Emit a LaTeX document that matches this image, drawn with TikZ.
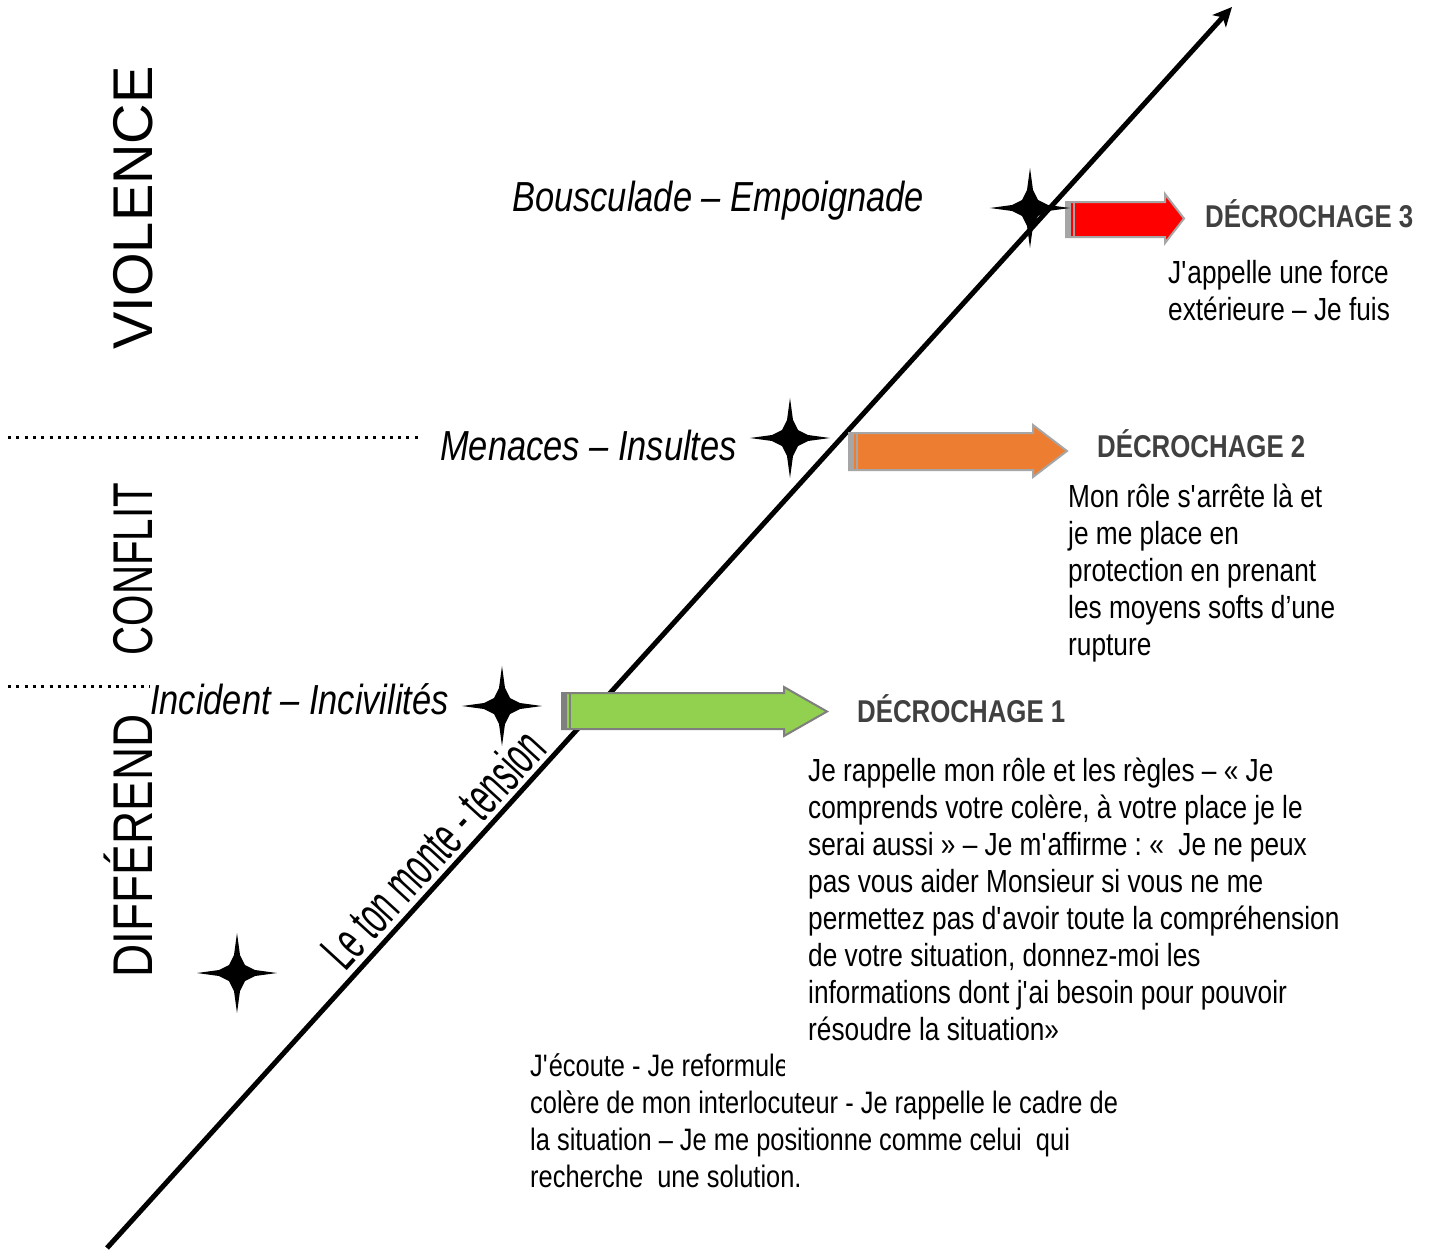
\documentclass[tikz,border=0pt]{standalone}
\usepackage{fontspec}
\setmainfont{Liberation Sans}
\newfontfamily\narrowfont{Liberation Sans}[FakeStretch=0.82]
\usepackage{graphicx}
\usetikzlibrary{arrows.meta}
\definecolor{arrgreen}{HTML}{92D050}
\definecolor{arrorange}{HTML}{ED7D31}
\definecolor{arrred}{HTML}{FF0000}
\definecolor{bordgray}{HTML}{A6A6A6}
\definecolor{bordgreen}{HTML}{7F7F7F}
\definecolor{labgray}{HTML}{404040}
\newcommand{\aps}{\textquotesingle}
\newcommand{\narrowspace}{\spaceskip=0.228em\relax\xspaceskip=0.228em\relax}
\begin{document}
\begin{tikzpicture}[x=1pt,y=-1pt,
  zone/.style={font=\fontsize{56}{60}\selectfont, rotate=90, anchor=base, inner sep=0},
  level/.style={font=\narrowfont\fontsize{42}{48}\selectfont\itshape, anchor=base west, inner sep=0},
  dlabel/.style={font=\narrowfont\fontsize{31.5}{36}\selectfont\bfseries, text=labgray, anchor=base west, inner sep=0},
  body/.style={font=\narrowfont\fontsize{32}{37}\selectfont, anchor=base west, inner sep=0, align=left},
  sepline/.style={line width=3pt, dash pattern=on 3pt off 5.3pt},
  axisline/.style={line width=5pt, -{Stealth[length=19pt,width=18pt,inset=5pt]}},
  blockarrow/.style={line width=2pt, draw=#1},
  sparkle/.pic={\fill[black] (0,-40) -- (3,-18) -- (8,-8) -- (18,-3) -- (40,0) -- (18,3) -- (8,8) -- (3,18) -- (0,40) -- (-3,18) -- (-8,8) -- (-18,3) -- (-40,0) -- (-18,-3) -- (-8,-8) -- (-3,-18) -- cycle;}
]
\useasboundingbox (0,0) rectangle (1431,1256);
\fill[white] (0,0) rectangle (1431,1256);

% zone labels
\node[zone] (violence) at (152,208) {VIOLENCE};
\node[zone] (conflit) at (152,569) {\scalebox{0.72}[1]{CONFLIT}};
\node[zone] (differend) at (152,846) {\scalebox{0.82}[1]{DIFFÉREND}};

% separators
\coordinate (s1a) at (8,437);
\coordinate (s1b) at (418,437);
\coordinate (s2a) at (8,686);
\coordinate (s2b) at (150,686);
\draw[sepline] (s1a) -- (s1b);
\draw[sepline] (s2a) -- (s2b);

% main axis
\coordinate (axstart) at (107,1248);
\coordinate (axend) at (1232,7);
\draw[axisline] (axstart) -- (axend);
\node[font=\fontsize{54}{60}\selectfont, rotate=47.5, anchor=base, inner sep=0] (tension) at (447,862) {\scalebox{0.56}[1]{Le ton monte - tension}};

% bottom paragraph (partly hidden)
\node[body, font=\narrowfont\fontsize{31}{37}\selectfont, text width=640pt] (ecoute) at (530,1076) {\narrowspace J\aps écoute - Je reformule\\colère de mon interlocuteur - Je rappelle le cadre de\\la situation – Je me positionne comme celui\ \ qui\\recherche\ \ une solution.};

% block arrows
\draw[blockarrow=bordgreen, fill=arrgreen] (562,693) -- (784,693) -- (784,687) -- (827,711.5) -- (784,736) -- (784,729) -- (562,729) -- cycle;
\fill[bordgreen] (562,693) rectangle (567,729);
\draw[bordgreen, line width=2pt] (570,693) -- (570,729);

\draw[blockarrow=bordgray, fill=arrorange] (849,433) -- (1033,433) -- (1033,425) -- (1067,451) -- (1033,477) -- (1033,470) -- (849,470) -- cycle;
\fill[bordgray] (849,433) rectangle (854,470);
\draw[bordgray, line width=2pt] (857,433) -- (857,470);

\draw[blockarrow=bordgray, fill=arrred] (1066,202) -- (1165,202) -- (1165,194) -- (1184,218.5) -- (1165,243) -- (1165,237) -- (1066,237) -- cycle;
\fill[bordgray] (1066,202) rectangle (1071,237);
\draw[bordgray, line width=2pt] (1074,202) -- (1074,237);

% stars
\pic at (237,973) {sparkle};
\pic at (502,706) {sparkle};
\pic at (790,438) {sparkle};
\pic at (1030,208) {sparkle};

% level labels
\node[level] (bousc) at (512,211) {Bousculade – Empoignade};
\node[level] (menaces) at (440,460) {Menaces – Insultes};
\node[level] (incident) at (150,714) {Incident – Incivilités};

% decrochage labels
\node[dlabel] (dec3) at (1205,227) {DÉCROCHAGE 3};
\node[dlabel] (dec2) at (1097,457) {DÉCROCHAGE 2};
\node[dlabel] (dec1) at (857,722) {DÉCROCHAGE 1};

% decrochage texts
\node[body, text width=300pt] (txt3) at (1168,283) {\narrowspace J\aps appelle une force\\extérieure – Je fuis};
\node[body, text width=320pt] (txt2) at (1068,507) {\narrowspace Mon rôle s\aps arrête là et\\je me place en\\protection en prenant\\les moyens softs d’une\\rupture};
\node[body, text width=560pt, fill=white, inner xsep=23pt, inner ysep=4pt] (txt1) at (785,781) {\narrowspace Je rappelle mon rôle et les règles – « Je\\comprends votre colère, à votre place je le\\serai aussi » – Je m\aps affirme : «\ \ Je ne peux\\pas vous aider Monsieur si vous ne me\\permettez pas d\aps avoir toute la compréhension\\de votre situation, donnez-moi les\\informations dont j\aps ai besoin pour pouvoir\\résoudre la situation»\rule[-34pt]{0pt}{1pt}};
\end{tikzpicture}
\end{document}
